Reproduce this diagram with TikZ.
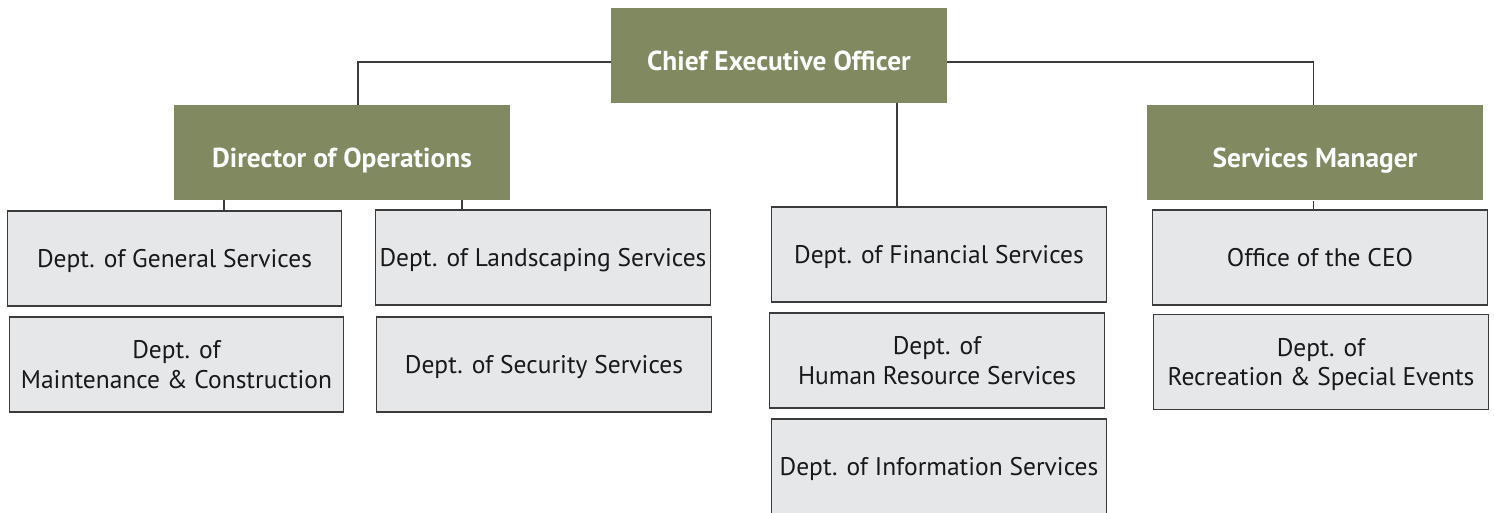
\documentclass[tikz,border=0pt]{standalone}
\usepackage{fontspec}
\setmainfont{PT Sans}
\definecolor{olive}{RGB}{128,137,96}
\definecolor{boxgray}{RGB}{230,231,233}
\definecolor{edgegray}{RGB}{60,60,60}

\begin{document}
\begin{tikzpicture}[x=0.02cm,y=-0.02cm,
		head/.style={fill=olive,text=white,font=\fontsize{15.6}{19}\selectfont\bfseries,minimum width=6.72cm,minimum height=1.9cm,inner sep=0pt,text height=0.6cm,text depth=0pt,align=center},
		dept/.style={draw=edgegray,line width=0.6pt,fill=boxgray,text=black!90,font=\fontsize{14.5}{17}\selectfont,minimum width=6.7cm,minimum height=1.9cm,inner sep=0pt,text depth=0pt,align=center},
		link/.style={draw=edgegray,line width=0.6pt}]

		\useasboundingbox (0,0) rectangle (1494,512);

		\node[head] (ceo) at (779,55.5) {Chief Executive Officer};
		\node[head] (dirops) at (342,152.5) {Director of Operations};
		\node[head] (svcmgr) at (1315,152.7) {Services Manager};

		\node[dept] (gen) at (174.5,258.5) {Dept. of General Services};
		\node[dept] (maint) at (176.5,364.5) {Dept. of\\Maintenance \& Construction};
		\node[dept] (land) at (543,257.5) {Dept. of Landscaping Services};
		\node[dept] (sec) at (544,364.5) {Dept. of Security Services};

		\node[dept] (fin) at (939,254.5) {Dept. of Financial Services};
		\node[dept] (hr) at (937,360.5) {Dept. of\\Human Resource Services};
		\node[dept] (info) at (939,466.5) {Dept. of Information Services};

		\node[dept] (office) at (1320,257.5) {Office of the CEO};
		\node[dept] (rec) at (1321,362) {Dept. of\\Recreation \& Special Events};

		\draw[link] ([yshift=-0.13cm]ceo.west) -| ([xshift=0.32cm]dirops.north);
		\draw[link] ([yshift=-0.13cm]ceo.east) -| ([xshift=-0.03cm]svcmgr.north);
		\draw[link] ([xshift=2.36cm]ceo.south) coordinate (c1) -- (c1 |- fin.north);

		\draw[link] ([xshift=-2.36cm]dirops.south) coordinate (d1) -- (d1 |- gen.north);
		\draw[link] ([xshift=2.4cm]dirops.south) coordinate (d2) -- (d2 |- land.north);
		\draw[link] ([xshift=-0.03cm]svcmgr.south) coordinate (s1) -- (s1 |- office.north);

\end{tikzpicture}
\end{document}
